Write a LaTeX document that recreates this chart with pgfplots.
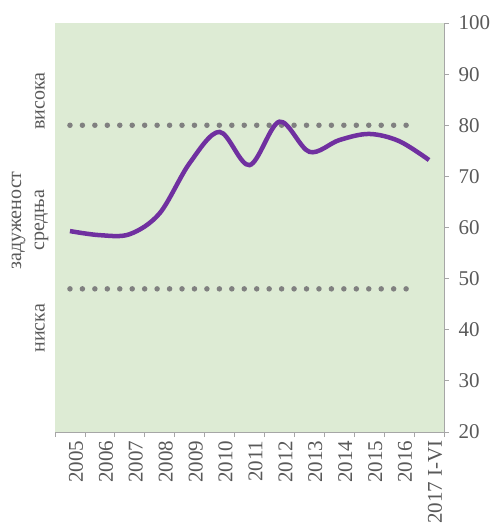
\documentclass[border=0pt]{standalone}
\usepackage{fontspec}
\setmainfont{Liberation Serif}
\usepackage{pgfplots}
\pgfplotsset{compat=1.18}
\definecolor{bg}{RGB}{221,235,212}
\definecolor{lin}{RGB}{112,48,160}
\definecolor{dotc}{RGB}{128,128,128}
\definecolor{axc}{RGB}{166,166,166}
\definecolor{txt}{RGB}{89,89,89}
\begin{document}
\begin{tikzpicture}
\useasboundingbox (-55pt,-96pt) rectangle (444pt,432pt);
\begin{axis}[
  at={(0,0)}, anchor=south west,
  scale only axis, width=389pt, height=409pt,
  xmin=-0.5, xmax=12.5, ymin=20, ymax=100,
  axis x line=bottom, axis y line=right,
  axis line style={axc, line width=0.8pt, -},
  axis background/.style={fill=bg},
  xtick={0,...,12},
  xticklabels={2005,2006,2007,2008,2009,2010,2011,2012,2013,2014,2015,2016,2017 I-VI},
  major x tick style={draw=none},
  minor xtick={-0.5,0.5,...,12.5},
  minor tick length=5pt,
  minor x tick style={axc, line width=0.8pt},
  ytick={20,30,...,100},
  major tick length=5pt,
  y tick style={axc, line width=0.8pt},
  tick align=outside,
  xticklabel style={rotate=90, anchor=east, font=\fontsize{21}{24}\selectfont, text=txt, yshift=-6pt},
  yticklabel style={font=\fontsize{21}{24}\selectfont, text=txt, anchor=west, xshift=6pt},
  /pgf/number format/assume math mode=true,
  clip=false,
]
\addplot[dotc, line width=5.5pt, line cap=round, dash pattern=on 0pt off 12.45pt] coordinates {(0,80) (11.6,80)};
\addplot[dotc, line width=5.5pt, line cap=round, dash pattern=on 0pt off 12.45pt] coordinates {(0,48) (11.6,48)};
\addplot[lin, line width=4.5pt, smooth, tension=0.55] coordinates {
(0,59.3) (1,58.5) (2,58.7) (3,62.8) (4,72.6) (5,78.7) (6,72.2) (7,80.7) (8,74.8) (9,77.1) (10,78.3) (11,76.9) (12,73.2)};
\node[rotate=90, font=\fontsize{20}{23}\selectfont, text=txt] at ([xshift=-15pt]axis cs:-0.5,84.7) {висока};
\node[rotate=90, font=\fontsize{20}{23}\selectfont, text=txt, align=center] at ([xshift=-25pt]axis cs:-0.5,61.4) {задуженост\\средња};
\node[rotate=90, font=\fontsize{20}{23}\selectfont, text=txt] at ([xshift=-15pt]axis cs:-0.5,40.3) {ниска};
\end{axis}
\end{tikzpicture}
\end{document}
